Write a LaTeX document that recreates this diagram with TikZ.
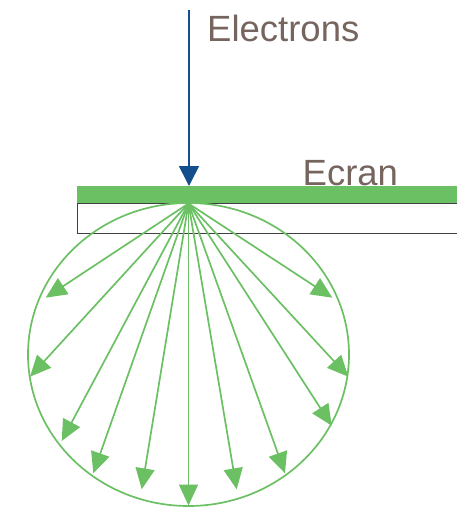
\documentclass[tikz,border=0pt]{standalone}
\usepackage{fontspec}
\setmainfont{Liberation Sans}
\usetikzlibrary{arrows.meta}
\definecolor{scrgreen}{RGB}{108,192,100}
\definecolor{beamblue}{RGB}{20,78,140}
\definecolor{labelgray}{RGB}{117,101,94}
\definecolor{framegray}{RGB}{64,64,68}
\tikzset{
  ray/.style={draw=scrgreen, line width=1.7pt, -{Triangle[length=21pt,width=19pt]}},
  beam/.style={draw=beamblue, line width=1.7pt, -{Triangle[length=20pt,width=20pt]}},
  lbl/.style={text=labelgray, inner sep=0pt, anchor=base west, font=\fontsize{36.5}{40}\selectfont},
}
\begin{document}
\begin{tikzpicture}[x=1pt,y=-1pt]
\useasboundingbox (0,0) rectangle (457,507);
% frame below screen
\draw[framegray, line width=1.8pt] (465,203) -- (77.5,203) -- (77.5,233.5) -- (465,233.5);
% screen bar
\fill[scrgreen] (77,186) rectangle (470,203);
% emission envelope
\draw[scrgreen, line width=1.7pt] (188.5,354.5) ellipse [x radius=160.5, y radius=151.5];
% source and tips
\coordinate (s) at (188.5,203.5);
\coordinate (t1) at (45.7,297.7);
\coordinate (t2) at (30,376.7);
\coordinate (t3) at (61.7,441);
\coordinate (t4) at (93.3,473.3);
\coordinate (t5) at (141.7,489.3);
\coordinate (t6) at (188.5,505.5);
\coordinate (t7) at (236.7,489.3);
\coordinate (t8) at (285,473.3);
\coordinate (t9) at (331.7,425.7);
\coordinate (t10) at (348.3,376.7);
\coordinate (t11) at (332.3,297.7);
\foreach \t in {t1,t2,t3,t4,t5,t6,t7,t8,t9,t10,t11}
  \draw[ray] (s) -- (\t);
% electron beam
\coordinate (btop) at (189,10);
\coordinate (bhit) at (189,186);
\draw[beam] (btop) -- (bhit);
% labels
\node[lbl] (el) at (207,41.5) {Electrons};
\node[lbl] (ec) at (302.5,185) {Ecran};
\end{tikzpicture}
\end{document}
